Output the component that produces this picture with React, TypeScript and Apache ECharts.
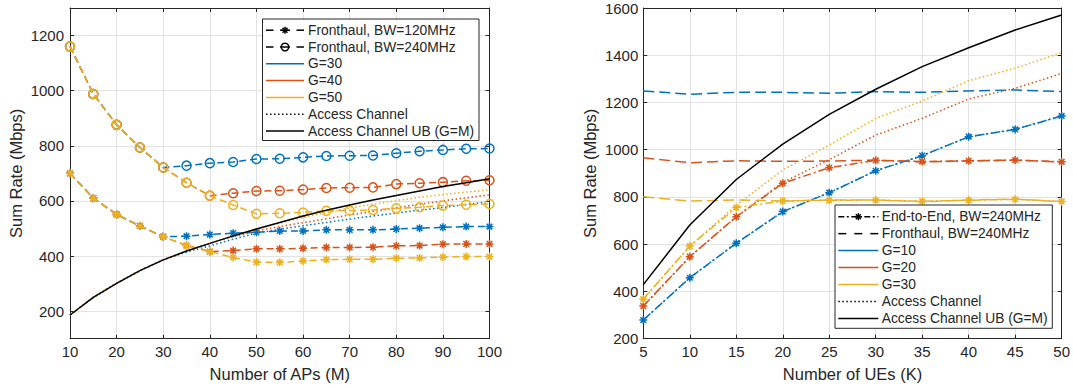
import React, { useEffect, useRef } from 'react';
import * as echarts from 'echarts';

// ---- Left panel: sum rate vs. number of APs (M) ----
const apCounts = [10, 15, 20, 25, 30, 35, 40, 45, 50, 55, 60, 65, 70, 75, 80, 85, 90, 95, 100];

const fh120G30 = [700, 610, 551, 509, 470, 472, 478, 483, 486, 491, 491, 495, 495, 495, 498, 501, 504, 507, 507];
const fh120G40 = [700, 610, 551, 509, 470, 438, 416, 420, 426, 426, 428, 431, 431, 432, 437, 438, 443, 444, 444];
const fh120G50 = [700, 610, 551, 509, 470, 438, 416, 395, 378, 377, 382, 387, 388, 388, 392, 393, 396, 398, 398];

const fh240G30 = [1160, 988, 876, 794, 721, 728, 737, 741, 752, 753, 758, 763, 764, 765, 773, 780, 785, 789, 790];
const fh240G40 = [1160, 988, 876, 794, 721, 666, 619, 628, 636, 637, 641, 647, 648, 649, 661, 664, 668, 673, 675];
const fh240G50 = [1160, 988, 876, 794, 721, 666, 619, 585, 553, 555, 558, 564, 565, 567, 573, 577, 583, 586, 589];

const accessG30 = [186, 250, 301, 347, 386, 414, 437, 461, 483, 497, 510, 522, 534, 545, 556, 566, 576, 587, 597];
const accessG40 = [186, 250, 301, 347, 386, 418, 446, 470, 491, 507, 521, 535, 549, 562, 575, 588, 600, 611, 622];
const accessG50 = [186, 250, 301, 347, 386, 418, 446, 473, 498, 519, 540, 558, 574, 588, 601, 613, 623, 632, 640];
const accessUBAps = [186, 250, 301, 347, 386, 418, 446, 473, 498, 522, 545, 566, 585, 603, 620, 636, 652, 666, 680];

// ---- Right panel: sum rate vs. number of UEs (K) ----
const ueCounts = [5, 10, 15, 20, 25, 30, 35, 40, 45, 50];

const e2eG10 = [279, 458, 604, 738, 818, 911, 975, 1055, 1086, 1143];
const e2eG20 = [338, 547, 716, 858, 924, 955, 950, 953, 956, 949];
const e2eG30 = [368, 592, 755, 783, 786, 787, 782, 786, 790, 781];

const fhUeG10 = [1249, 1235, 1243, 1243, 1239, 1246, 1243, 1249, 1253, 1246];
const fhUeG20 = [966, 945, 953, 951, 952, 956, 948, 953, 956, 948];
const fhUeG30 = [801, 783, 787, 783, 787, 787, 780, 787, 791, 780];

const accUeG10 = [279, 458, 604, 738, 818, 911, 975, 1055, 1086, 1143];
const accUeG20 = [338, 547, 716, 862, 958, 1062, 1133, 1215, 1260, 1323];
const accUeG30 = [368, 592, 765, 914, 1020, 1133, 1206, 1292, 1345, 1411];
const accessUBUes = [429, 681, 874, 1024, 1150, 1256, 1352, 1432, 1507, 1570];

// ---- Legend entries ----
const leftLegend = [
  'Fronthaul, BW=120MHz',
  'Fronthaul, BW=240MHz',
  'G=30',
  'G=40',
  'G=50',
  'Access Channel',
  'Access Channel UB (G=M)',
];
const rightLegend = [
  'End-to-End, BW=240MHz',
  'Fronthaul, BW=240MHz',
  'G=10',
  'G=20',
  'G=30',
  'Access Channel',
  'Access Channel UB (G=M)',
];

const BLUE = '#0072BD';
const ORANGE = '#D95319';
const YELLOW = '#EDB120';
const BLACK = '#000000';
const AXIS = '#262626';
const GRID = '#e3e3e3';
const FONT = '"Liberation Sans", Arial, Helvetica, sans-serif';

const STAR = 'path://M5,0L5,10M0,5L10,5M1.46,1.46L8.54,8.54M8.54,1.46L1.46,8.54';

const DASH_L = [7, 4];
const DASH_R = [11, 5];
const DASHDOT = [8, 3, 2, 3];
const DOT = [1.5, 2.5];

type Marker = 'star' | 'circle' | 'none';

const plain = (v: number) => String(v);

function lineSeries(
  name: string,
  axis: number,
  xs: number[],
  ys: number[],
  color: string,
  dash: number[] | 'solid',
  marker: Marker,
  z: number
) {
  return {
    type: 'line',
    name,
    xAxisIndex: axis * 2,
    yAxisIndex: axis * 2,
    data: xs.map((x, i) => [x, ys[i]]),
    symbol: marker === 'star' ? STAR : marker === 'circle' ? 'circle' : 'none',
    symbolSize: marker === 'circle' ? 9 : 8,
    showSymbol: marker !== 'none',
    symbolKeepAspect: true,
    itemStyle: { color: 'rgba(0,0,0,0)', borderColor: color, borderWidth: 1.5 },
    lineStyle: { color, width: 1.5, type: dash, cap: 'butt' },
    emphasis: { disabled: true },
    silent: true,
    z,
  };
}

function valueAxis(
  grid: number,
  position: string,
  min: number,
  max: number,
  main: boolean,
  extra: Record<string, unknown> = {}
) {
  return {
    type: 'value',
    gridIndex: grid,
    position,
    min,
    max,
    axisLine: { show: true, onZero: false, lineStyle: { color: AXIS, width: 1 } },
    axisTick: { show: true, inside: true, length: 4, lineStyle: { color: AXIS, width: 1 } },
    axisLabel: { show: main, color: AXIS, fontSize: 15, fontFamily: FONT, formatter: plain },
    splitLine: { show: main, lineStyle: { color: GRID, width: 1 } },
    ...extra,
  };
}

function legendGraphics(
  entries: string[],
  box: { x: number; y: number; w: number; h: number },
  row0: number,
  rowStep: number,
  lx1: number,
  lx2: number,
  tx: number,
  styles: { color: string; kind: string }[]
) {
  const els: any[] = [
    {
      type: 'rect',
      shape: { x: box.x, y: box.y, width: box.w, height: box.h },
      style: { fill: '#ffffff', stroke: AXIS, lineWidth: 1 },
      z: 100,
    },
  ];
  const mid = (lx1 + lx2) / 2;
  entries.forEach((label, i) => {
    const y = row0 + i * rowStep;
    const { color, kind } = styles[i];
    const seg = (a: number, b: number, dash?: number[]) => ({
      type: 'line',
      shape: { x1: a, y1: y, x2: b, y2: y },
      style: { stroke: color, lineWidth: 1.5, lineDash: dash, lineCap: 'butt' },
      z: 101,
    });
    if (kind === 'solid') {
      els.push(seg(lx1, lx2));
    } else if (kind === 'dot') {
      els.push(seg(lx1, lx2, DOT));
    } else if (kind === 'dash3') {
      const w = (lx2 - lx1) / 5;
      els.push(seg(lx1, lx1 + w), seg(mid - w / 2, mid + w / 2), seg(lx2 - w, lx2));
    } else if (kind === 'dashStar' || kind === 'dashCircle' || kind === 'dashdotStar') {
      if (kind === 'dashdotStar') {
        els.push(seg(lx1, lx2, [6, 2.5, 2, 2.5]));
      } else {
        els.push(seg(lx1, lx1 + 7.5), seg(mid - 5, mid + 5), seg(lx2 - 7.5, lx2));
      }
      if (kind === 'dashCircle') {
        els.push({
          type: 'circle',
          shape: { cx: mid, cy: y, r: 3.8 },
          style: { fill: 'none', stroke: color, lineWidth: 1.5 },
          z: 102,
        });
      } else {
        const r = 3.5;
        const d = r * 0.707;
        const arms = [
          [mid - r, y, mid + r, y],
          [mid, y - r, mid, y + r],
          [mid - d, y - d, mid + d, y + d],
          [mid - d, y + d, mid + d, y - d],
        ];
        arms.forEach(([x1, y1, x2, y2]) =>
          els.push({
            type: 'line',
            shape: { x1, y1, x2, y2 },
            style: { stroke: color, lineWidth: 1.5 },
            z: 102,
          })
        );
      }
    }
    els.push({
      type: 'text',
      x: tx,
      y,
      style: {
        text: label,
        fill: AXIS,
        fontSize: 13.8,
        fontFamily: FONT,
        verticalAlign: 'middle',
        align: 'left',
      },
      z: 101,
    });
  });
  return els;
}

export default function App() {
  const ref = useRef<HTMLDivElement>(null);

  useEffect(() => {
    if (!ref.current) return;
    const chart = echarts.init(ref.current, undefined, { renderer: 'svg' });

    const series = [
      // left panel
      lineSeries('Fronthaul 120MHz, G=30', 0, apCounts, fh120G30, BLUE, DASH_L, 'star', 2),
      lineSeries('Fronthaul 240MHz, G=30', 0, apCounts, fh240G30, BLUE, DASH_L, 'circle', 2),
      lineSeries('Access Channel, G=30', 0, apCounts, accessG30, BLUE, DOT, 'none', 2),
      lineSeries('Fronthaul 120MHz, G=40', 0, apCounts, fh120G40, ORANGE, DASH_L, 'star', 3),
      lineSeries('Fronthaul 240MHz, G=40', 0, apCounts, fh240G40, ORANGE, DASH_L, 'circle', 3),
      lineSeries('Access Channel, G=40', 0, apCounts, accessG40, ORANGE, DOT, 'none', 3),
      lineSeries('Fronthaul 120MHz, G=50', 0, apCounts, fh120G50, YELLOW, DASH_L, 'star', 4),
      lineSeries('Fronthaul 240MHz, G=50', 0, apCounts, fh240G50, YELLOW, DASH_L, 'circle', 4),
      lineSeries('Access Channel, G=50', 0, apCounts, accessG50, YELLOW, DOT, 'none', 4),
      lineSeries('Access Channel UB', 0, apCounts, accessUBAps, BLACK, 'solid', 'none', 5),
      // right panel
      lineSeries('Fronthaul, G=10', 1, ueCounts, fhUeG10, BLUE, DASH_R, 'none', 2),
      lineSeries('Access, G=10', 1, ueCounts, accUeG10, BLUE, DOT, 'none', 2),
      lineSeries('End-to-End, G=10', 1, ueCounts, e2eG10, BLUE, DASHDOT, 'star', 2),
      lineSeries('Fronthaul, G=20', 1, ueCounts, fhUeG20, ORANGE, DASH_R, 'none', 3),
      lineSeries('Access, G=20', 1, ueCounts, accUeG20, ORANGE, DOT, 'none', 3),
      lineSeries('End-to-End, G=20', 1, ueCounts, e2eG20, ORANGE, DASHDOT, 'star', 3),
      lineSeries('Fronthaul, G=30', 1, ueCounts, fhUeG30, YELLOW, DASH_R, 'none', 4),
      lineSeries('Access, G=30', 1, ueCounts, accUeG30, YELLOW, DOT, 'none', 4),
      lineSeries('End-to-End, G=30', 1, ueCounts, e2eG30, YELLOW, DASHDOT, 'star', 4),
      lineSeries('Access Channel UB (K)', 1, ueCounts, accessUBUes, BLACK, 'solid', 'none', 5),
    ];

    const nameStyle = { color: AXIS, fontSize: 16.5, fontFamily: FONT };

    const option = {
      animation: false,
      backgroundColor: '#ffffff',
      grid: [
        { left: 70, top: 8, width: 419.5, height: 330.7 },
        { left: 643.3, top: 8, width: 420, height: 330.7 },
      ],
      xAxis: [
        valueAxis(0, 'bottom', 10, 100, true, {
          interval: 10,
          name: 'Number of APs (M)',
          nameLocation: 'middle',
          nameGap: 27,
          nameTextStyle: nameStyle,
          axisLabel: { color: AXIS, fontSize: 15, fontFamily: FONT, margin: 5, formatter: plain },
        }),
        valueAxis(0, 'top', 10, 100, false, { interval: 10 }),
        valueAxis(1, 'bottom', 5, 50, true, {
          interval: 5,
          name: 'Number of UEs (K)',
          nameLocation: 'middle',
          nameGap: 27,
          nameTextStyle: nameStyle,
          axisLabel: { color: AXIS, fontSize: 15, fontFamily: FONT, margin: 5, formatter: plain },
        }),
        valueAxis(1, 'top', 5, 50, false, { interval: 5 }),
      ],
      yAxis: [
        valueAxis(0, 'left', 100, 1300, true, {
          minInterval: 200,
          maxInterval: 200,
          name: 'Sum Rate (Mbps)',
          nameLocation: 'middle',
          nameGap: 46,
          nameTextStyle: nameStyle,
          axisLabel: {
            color: AXIS,
            fontSize: 15,
            fontFamily: FONT,
            margin: 6,
            formatter: (v: number) => (v % 200 === 0 ? String(v) : ''),
          },
        }),
        valueAxis(0, 'right', 100, 1300, false, { minInterval: 200, maxInterval: 200 }),
        valueAxis(1, 'left', 200, 1600, true, {
          interval: 200,
          name: 'Sum Rate (Mbps)',
          nameLocation: 'middle',
          nameGap: 45,
          nameTextStyle: nameStyle,
          axisLabel: { color: AXIS, fontSize: 15, fontFamily: FONT, margin: 5, formatter: plain },
        }),
        valueAxis(1, 'right', 200, 1600, false, { interval: 200 }),
      ],
      series,
      graphic: [
        ...legendGraphics(
          leftLegend,
          { x: 262.5, y: 19, w: 216.5, h: 121.5 },
          30.2,
          16.8,
          266,
          304,
          308,
          [
            { color: BLACK, kind: 'dashStar' },
            { color: BLACK, kind: 'dashCircle' },
            { color: BLUE, kind: 'solid' },
            { color: ORANGE, kind: 'solid' },
            { color: YELLOW, kind: 'solid' },
            { color: BLACK, kind: 'dot' },
            { color: BLACK, kind: 'solid' },
          ]
        ),
        ...legendGraphics(
          rightLegend,
          { x: 835, y: 205, w: 217.3, h: 123.3 },
          216.7,
          16.95,
          838.3,
          878.3,
          881.7,
          [
            { color: BLACK, kind: 'dashdotStar' },
            { color: BLACK, kind: 'dash3' },
            { color: BLUE, kind: 'solid' },
            { color: ORANGE, kind: 'solid' },
            { color: YELLOW, kind: 'solid' },
            { color: BLACK, kind: 'dot' },
            { color: BLACK, kind: 'solid' },
          ]
        ),
      ],
    };

    chart.setOption(option as any);
    return () => {
      chart.dispose();
    };
  }, []);

  return (
    <div
      ref={ref}
      style={{ position: 'fixed', left: 0, top: 0, width: 1073, height: 388, background: '#fff' }}
    />
  );
}
